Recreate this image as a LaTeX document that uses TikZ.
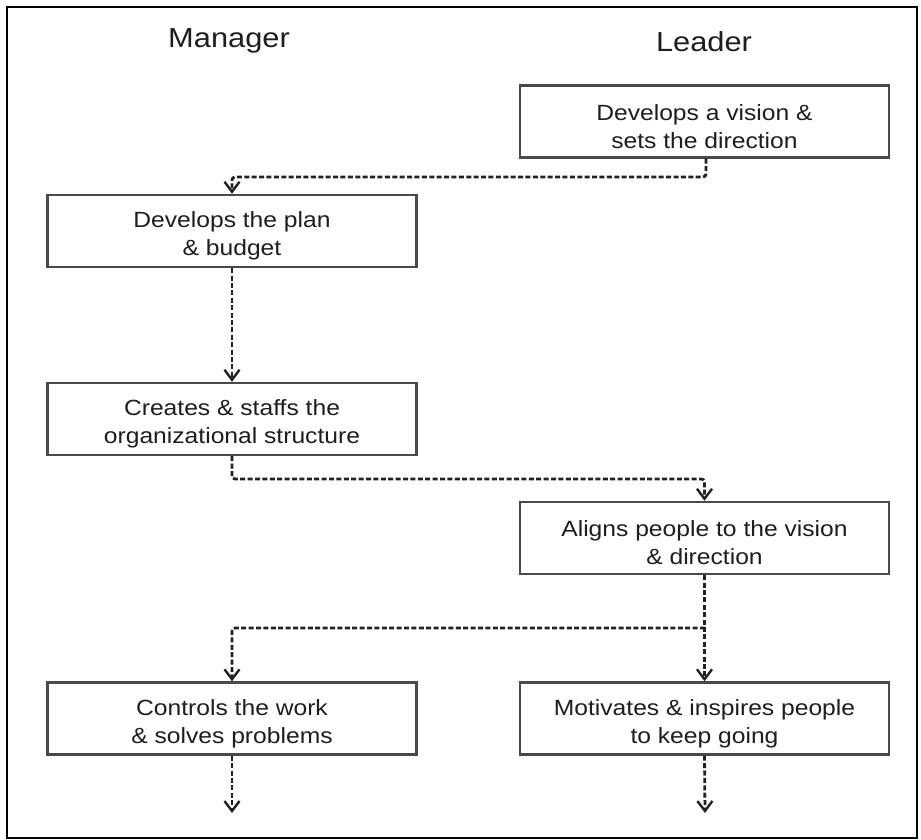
\documentclass[tikz,border=0pt]{standalone}
\usepackage{fontspec}
\setmainfont{Liberation Sans}[FakeStretch=1.12]
\usetikzlibrary{arrows.meta}
\definecolor{txt}{HTML}{1E1E1E}
\definecolor{boxline}{HTML}{4A4A4A}
\definecolor{conn}{HTML}{222222}
\begin{document}
\begin{tikzpicture}[x=1pt,y=-1pt,
  stepbox/.style={draw=boxline, line width=2.4pt, fill=white, minimum width=369pt, minimum height=72pt,
    inner sep=0pt},
  steptext/.style={align=center, text=txt, font=\fontsize{22}{28}\selectfont, inner sep=0pt, yshift=-5pt},
  title/.style={text=txt, font=\fontsize{27.5}{32}\selectfont, inner sep=0pt},
  conn/.style={draw=conn, line width=2.8pt, dash pattern=on 5pt off 2.4pt,
    -{Straight Barb[length=10pt,width=15pt,line width=2.4pt]}, rounded corners=3pt}]
\useasboundingbox (0,0) rectangle (921,840);
\draw[line width=2pt, black] (7,7) rectangle (917,838);

\node[title] (tm) at (229,41) {Manager};
\node[title] (tl) at (704,42) {Leader};

\node[stepbox] (v1) at (704.5,121.5) {};
\node[stepbox] (m1) at (232,231) {};
\node[stepbox] (m2) at (232,419) {};
\node[stepbox] (l2) at (704.5,538) {};
\node[stepbox] (m3) at (232,718.5) {};
\node[stepbox] (l3) at (704.5,718.5) {};

\node[steptext] (v1t) at (v1.center) {Develops a vision \&\\sets the direction};
\node[steptext] (m1t) at (m1.center) {Develops the plan\\\& budget};
\node[steptext] (m2t) at (m2.center) {Creates \& staffs the\\organizational structure};
\node[steptext] (l2t) at (l2.center) {Aligns people to the vision\\\& direction};
\node[steptext] (m3t) at (m3.center) {Controls the work\\\& solves problems};
\node[steptext] (l3t) at (l3.center) {Motivates \& inspires people\\to keep going};

\coordinate (j1) at (706,177);
\coordinate (j2) at (232,479);
\coordinate (j3) at (705,628);
\coordinate (e1) at (232,813);
\coordinate (e2) at (705,813);

\draw[conn] (v1.south -| j1) -- (j1) -- (j1 -| m1.north) -- (m1.north);
\draw[conn] (m1.south) -- (m2.north);
\draw[conn] (m2.south) -- (j2) -- (j2 -| l2.north) -- (l2.north);
\draw[conn] (l2.south) -- (l3.north);
\draw[conn] (j3) -- (j3 -| m3.north) -- (m3.north);
\draw[conn] (m3.south) -- (e1);
\draw[conn] (l3.south) -- (e2);
\end{tikzpicture}
\end{document}
